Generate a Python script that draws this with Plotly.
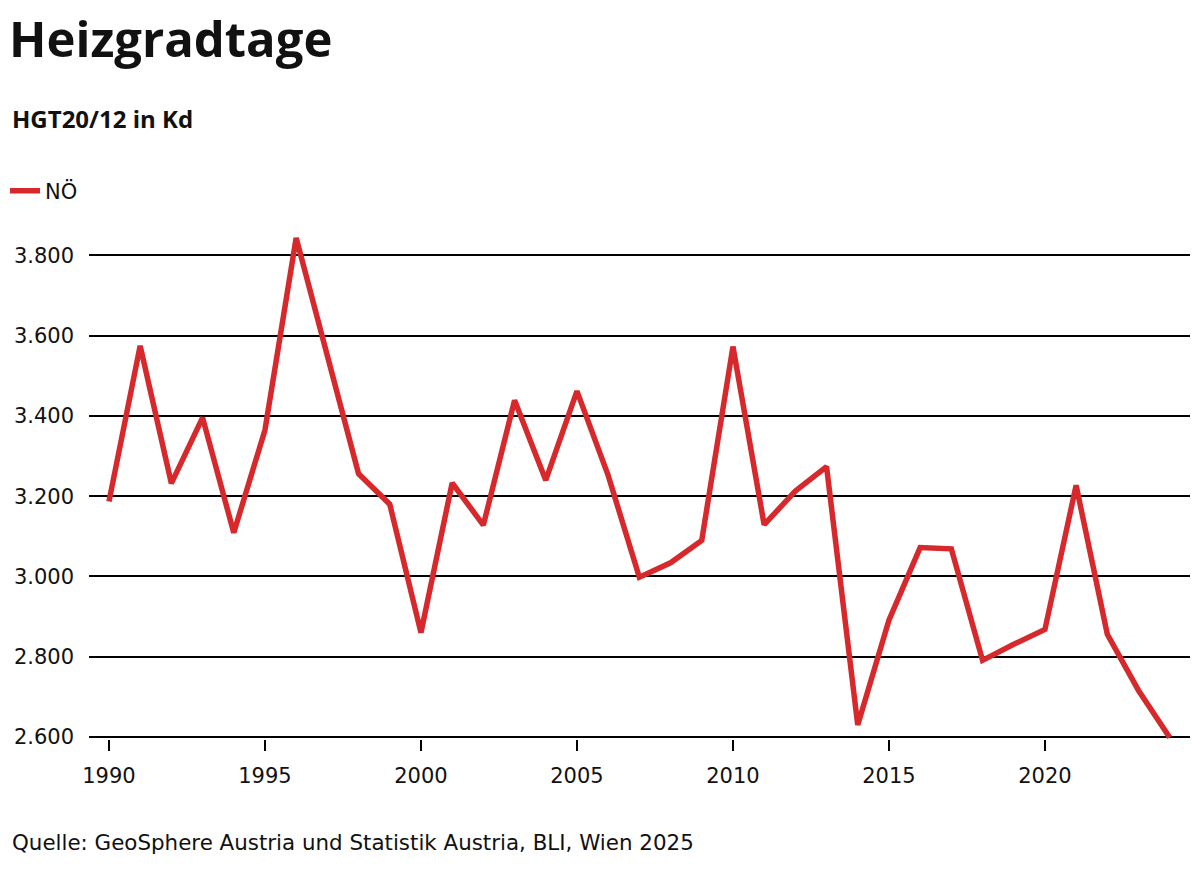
import plotly.graph_objects as go

years = list(range(1990, 2025))
hgt_noe = [3187, 3575, 3232, 3396, 3109, 3365, 3844, 3550, 3256, 3180,
           2860, 3233, 3128, 3439, 3240, 3462, 3252, 2998, 3034, 3090,
           3573, 3129, 3213, 3274, 2630, 2891, 3072, 3069, 2791, 2831,
           2868, 3227, 2856, 2716, 2599]
y_ticks = [2600, 2800, 3000, 3200, 3400, 3600, 3800]
x_ticks = [1990, 1995, 2000, 2005, 2010, 2015, 2020]

title = "Heizgradtage"
subtitle = "HGT20/12 in Kd"
series_name = "NÖ"
source = "Quelle: GeoSphere Austria und Statistik Austria, BLI, Wien 2025"

RED = "#d7282c"
HEAD_FONT = "Open Sans"
TEXT_FONT = "DejaVu Sans"

# plot area in pixels (1200 x 870 page)
W, H = 1200, 870
L, R, T, B = 89, 10, 220, 131
plot_h = H - T - B


def py(y):
    # page pixel y -> paper fraction
    return (H - B - y) / plot_h


def px(x):
    return (x - L) / (W - L - R)


fig = go.Figure()
fig.add_trace(go.Scatter(
    x=years, y=hgt_noe, name=series_name, mode="lines",
    line=dict(color=RED, width=5.5),
))

fig.update_layout(
    width=W, height=H,
    margin=dict(l=L, r=R, t=T, b=B, autoexpand=False),
    paper_bgcolor="white", plot_bgcolor="white",
    separators=",.",
    font=dict(family=TEXT_FONT, size=21, color="#111111"),
    showlegend=True,
    legend=dict(
        x=px(5), y=py(191), xanchor="left", yanchor="middle",
        orientation="h", font=dict(size=21, color="#111111"),
        itemwidth=30, bgcolor="rgba(0,0,0,0)",
    ),
    title=dict(
        text="<b>" + title + "</b>",
        font=dict(family=HEAD_FONT, size=49, color="#111111"),
        xref="container", yref="container", x=9 / W, y=1 - 40 / H,
        xanchor="left", yanchor="middle",
    ),
    xaxis=dict(
        range=[1989.36, 2024.65], tickvals=x_ticks,
        ticks="outside", ticklen=11, tickwidth=2, tickcolor="black",
        showgrid=False, showline=False, zeroline=False,
        ticklabelstandoff=7, automargin=False,
    ),
    yaxis=dict(
        range=[2595, 2595 + plot_h / 0.40125], tickvals=y_ticks,
        tickformat=",d", showgrid=True, gridcolor="black", gridwidth=2,
        zeroline=False, showline=False, ticks="",
        ticklabelstandoff=14, automargin=False,
    ),
    annotations=[
        dict(text="<b>" + subtitle + "</b>", xref="paper", yref="paper",
             x=px(10), y=py(118), xanchor="left", yanchor="middle",
             showarrow=False,
             font=dict(family=HEAD_FONT, size=24, color="#111111")),
        dict(text=source, xref="paper", yref="paper",
             x=px(10), y=py(842), xanchor="left", yanchor="middle",
             showarrow=False, font=dict(size=21.4, color="#111111")),
    ],
)

# drop the browser's default 8px body margin so pixels line up
fig.write_html("out.html", config={"displayModeBar": False},
               post_script="document.body.style.margin='0';")
